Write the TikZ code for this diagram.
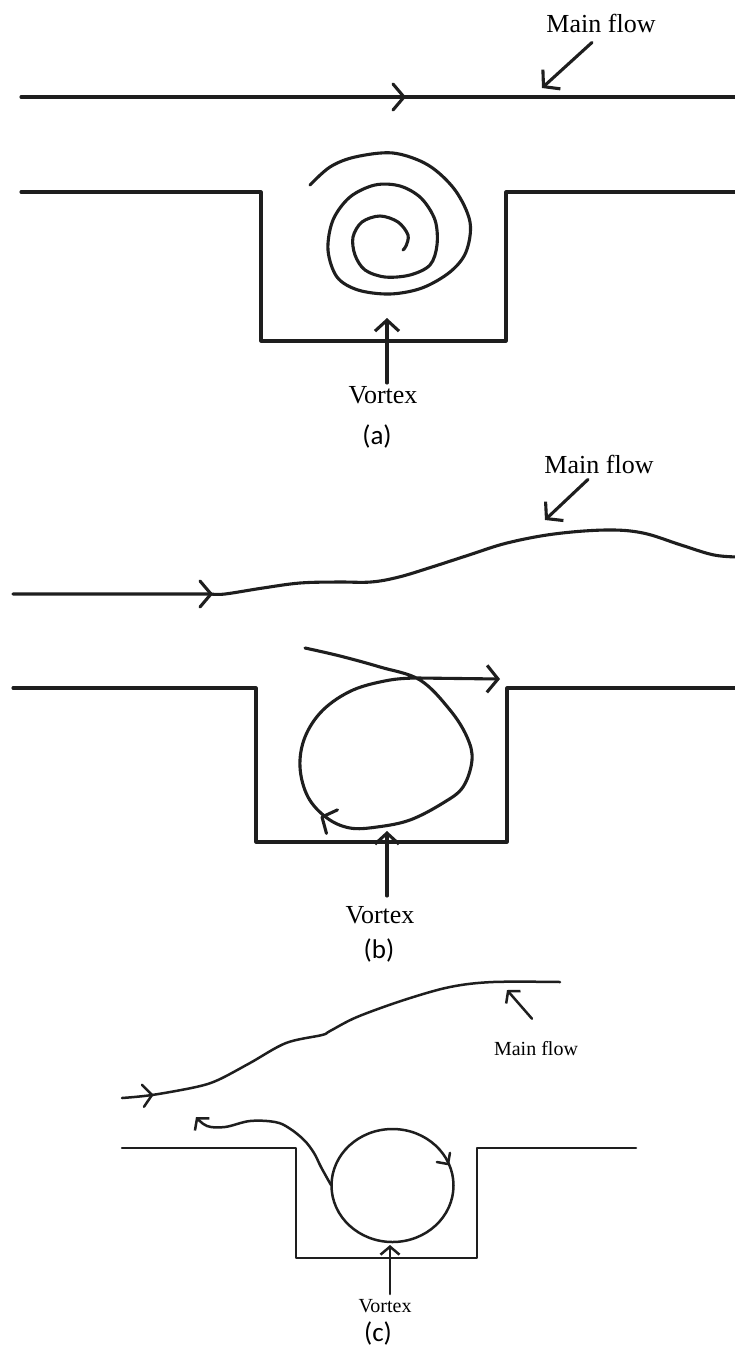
\documentclass[tikz,border=0pt]{standalone}
\usepackage{fontspec}
\setmainfont{Liberation Serif}
\newfontfamily\capfont{Carlito}
\usetikzlibrary{arrows.meta}
\definecolor{inkc}{HTML}{1E1E1E}

\begin{document}
\begin{tikzpicture}[x=1pt,y=-1pt,
  ink/.style={draw=inkc, line width=3.1pt, line join=round, line cap=round},
  inkc3/.style={draw=inkc, line width=2.5pt, line join=round, line cap=round},
  ptr/.style={ink, -{Straight Barb[length=11pt,width=26pt]}},
  ptrc/.style={inkc3, -{Straight Barb[length=8pt,width=19pt]}},
  upptr/.style={ink, -{Straight Barb[length=11pt,width=24pt]}},
  lbl/.style={inner sep=0pt, anchor=base, font=\fontsize{26}{30}\selectfont},
  lblc/.style={inner sep=0pt, anchor=base, font=\fontsize{20}{24}\selectfont},
  figcap/.style={inner sep=0pt, anchor=base, font=\capfont\fontsize{27}{32}\selectfont},
  chev/.pic={\draw[ink] (-11,-13) -- (0,0) -- (-11,13);},
  chevm/.pic={\draw[inkc3] (-9,-11) -- (0,0) -- (-9,11);},
  chevs/.pic={\draw[inkc3] (-8,-8) -- (0,0) -- (-8,8);}
]
\useasboundingbox (0,0) rectangle (735,1350);
\fill[white] (0,0) rectangle (735,1350);

% ---------- (a) steady recirculation: spiral vortex ----------
\draw[ink] (21,97) -- (735,97);
\pic at (404,97) {chev};
\node[lbl] (mfa) at (601,32) {Main flow};
\coordinate (mfa-tip) at (542,88);
\draw[ptr] ([shift={(-9,10)}]mfa.south) -- (mfa-tip);

\draw[ink] (21,192) -- (261,192) -- (261,341) -- (506,341) -- (506,192) -- (735,192);

\draw[ink] plot[smooth, tension=0.55] coordinates {
  (310,185) (330,167) (355,157) (393,153) (428,165) (455,190) (470,222)
  (466,252) (450,272) (422,288) (390,294) (358,290) (337,277) (328,250)
  (333,220) (350,197) (375,185) (400,186) (421,198) (435,220) (437,245)
  (430,265) (410,275) (385,277) (365,270) (355,255) (353,237) (362,222)
  (380,216) (398,222) (408,235) (406,246) (403,250)};

\node[lbl] (vxa) at (383,403) {Vortex};
\coordinate (vxa-tail) at (387,383);
\coordinate (vxa-tip) at (387,318);
\draw[upptr] (vxa-tail) -- (vxa-tip);
\node[figcap] (capa) at (377,444) {(a)};

% ---------- (b) vortex lifting out of the cavity ----------
\draw[ink] (13,594) -- (211,594)
  plot[smooth, tension=0.6] coordinates {
  (211,594) (225,594) (263,588) (300,583) (338,582) (371,582) (399,577)
  (432,567) (469,555) (507,543) (554,534) (606,530) (643,533) (681,545)
  (714,555) (740,557)};
\pic at (211,594) {chev};
\node[lbl] (mfb) at (599,473) {Main flow};
\coordinate (mfb-tip) at (545,520);
\draw[ptr] ([shift={(-11,6)}]mfb.south) -- (mfb-tip);

\draw[ink] (13,688) -- (256,688) -- (256,842) -- (507,842) -- (507,688) -- (735,688);

\draw[ink, -{Straight Barb[length=11pt,width=27pt]}] plot[smooth, tension=0.6] coordinates {
  (305,648) (340,656) (380,667) (420,680) (450,710) (467,737) (472,760)
  (463,787) (443,803) (410,820) (377,827) (350,828) (327,818) (308,797)
  (300,767) (305,737) (323,710) (353,690) (390,680) (418,678)} -- (500,679);
\pic[rotate=155] at (322,817) {chev};

\node[lbl] (vxb) at (380,923) {Vortex};
\coordinate (vxb-tail) at (387,896);
\coordinate (vxb-tip) at (387,831);
\draw[upptr] (vxb-tail) -- (vxb-tip);
\node[figcap] (capb) at (379,958) {(b)};

% ---------- (c) vortex fills the cavity, fluid is ejected ----------
\draw[inkc3] plot[smooth, tension=0.55] coordinates {
  (122,1098) (152,1095) (196,1087) (218,1080) (250,1063) (286,1043)
  (322,1035) (330,1031) (357,1017) (404,1000) (450,987) (493,982) (560,982)};
\pic[rotate=5] at (152,1095) {chevm};
\node[lblc] (mfc) at (536,1055) {Main flow};
\coordinate (mfc-tip) at (507,990);
\draw[ptrc] ([shift={(-4,-22)}]mfc.north) -- (mfc-tip);

\draw[inkc3] (122,1148) -- (296,1148) -- (296,1258) -- (477,1258) -- (477,1148) -- (636,1148);

\draw[inkc3] (392.5,1185.5) ellipse[x radius=61, y radius=56.5];
\pic[rotate=-55] at (448,1164) {chevs};

\draw[ptrc] plot[smooth, tension=0.6] coordinates {
  (331,1185) (321,1167) (314,1153) (304,1140) (289,1128) (275,1122)
  (250,1121) (225,1127) (207,1126) (196,1117)};

\node[lblc] (vxc) at (385,1312) {Vortex};
\coordinate (vxc-tail) at (390,1294);
\coordinate (vxc-tip) at (390,1245);
\draw[ptrc] (vxc-tail) -- (vxc-tip);
\node[figcap] (capc) at (378,1341) {(c)};
\end{tikzpicture}
\end{document}
